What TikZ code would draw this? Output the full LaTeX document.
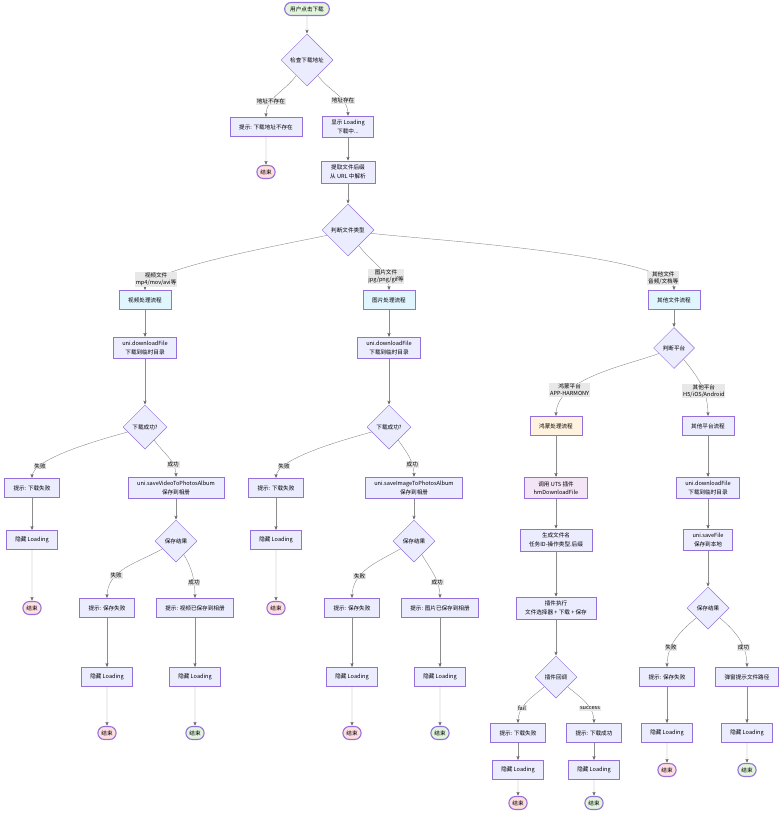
\documentclass[tikz,border=0pt]{standalone}
\usepackage{fontspec}
\newfontfamily\cjk{Noto Sans CJK SC}
\usetikzlibrary{arrows,positioning,shapes.geometric,shapes.misc}

\definecolor{nodefill}{HTML}{ECECFF}
\definecolor{nodeline}{HTML}{9370DB}
\definecolor{okfill}{HTML}{E2F5DC}
\definecolor{failfill}{HTML}{FFDEE0}
\definecolor{typefill}{HTML}{E1F5FE}
\definecolor{hmfill}{HTML}{FFF3E0}
\definecolor{utsfill}{HTML}{F3E5F5}
\definecolor{edgeline}{HTML}{8C8C8C}
\definecolor{lblfill}{HTML}{E8E8E8}

\begin{document}
\begin{tikzpicture}[->,>=stealth',shorten >=0.5pt,x=1pt,y=-1pt,
  line width=0.4pt,
  box/.style={rectangle,draw=nodeline,fill=nodefill,line width=0.5pt,
    font=\cjk\fontsize{5.6}{8.5}\selectfont,align=center,
    inner xsep=9pt,inner ysep=4pt,minimum height=19pt},
  choice/.style={diamond,aspect=1,draw=nodeline,fill=nodefill,line width=0.5pt,
    font=\cjk\fontsize{5.6}{8.5}\selectfont,inner sep=0pt},
  term/.style={rounded rectangle,draw=nodeline,line width=1.1pt,
    font=\cjk\fontsize{5.6}{8.5}\selectfont,inner xsep=3pt,minimum height=13pt},
  endok/.style={term,fill=okfill},
  endfail/.style={term,fill=failfill},
  lbl/.style={fill=lblfill,font=\cjk\fontsize{5.6}{7}\selectfont,
    align=center,inner sep=0.8pt}]

  \useasboundingbox (0,0) rectangle (784,814);

  % top part
  \node[endok,inner xsep=5pt] (start) at (307,9) {用户点击下载};
  \node[choice,minimum size=52pt] (chk) at (307,60) {检查下载地址};
  \node[box] (noaddr) at (266,127) {提示: 下载地址不存在};
  \node[endfail] (end1) [node distance=45pt, below of=noaddr] {结束};
  \node[box] (showld) at (348,127) {显示 Loading\\下载中...};
  \node[box] (ext) [node distance=45pt, below of=showld] {提取文件后缀\\从 URL 中解析};
  \node[choice,minimum size=52pt] (ftype) at (348,230) {判断文件类型};

  % three file types
  \node[box,fill=typefill] (vflow) at (145,300) {视频处理流程};
  \node[box,fill=typefill] (iflow) at (389,300) {图片处理流程};
  \node[box,fill=typefill] (oflow) at (674,300) {其他文件流程};

  % video
  \node[box] (vdl) [node distance=48pt, below of=vflow] {uni.downloadFile\\下载到临时目录};
  \node[choice,minimum size=44pt] (vok) [node distance=79pt, below of=vdl] {下载成功?};
  \node[box] (vdlfail) at (32,488) {提示: 下载失败};
  \node[box] (vhide1) [node distance=52pt, below of=vdlfail] {隐藏 Loading};
  \node[endfail] (vend1) [node distance=68pt, below of=vhide1] {结束};
  \node[box] (vsave) at (176,488) {uni.saveVideoToPhotosAlbum\\保存到相册};
  \node[choice,minimum size=42pt] (vres) [node distance=53pt, below of=vsave] {保存结果};
  \node[box] (vsfail) at (107,608) {提示: 保存失败};
  \node[box] (vhide2) [node distance=69pt, below of=vsfail] {隐藏 Loading};
  \node[endfail] (vend2) [node distance=56pt, below of=vhide2] {结束};
  \node[box] (vsok) at (195,608) {提示: 视频已保存到相册};
  \node[box] (vhide3) [node distance=69pt, below of=vsok] {隐藏 Loading};
  \node[endok] (vend3) [node distance=56pt, below of=vhide3] {结束};

  % image
  \node[box] (idl) [node distance=48pt, below of=iflow] {uni.downloadFile\\下载到临时目录};
  \node[choice,minimum size=44pt] (iok) [node distance=79pt, below of=idl] {下载成功?};
  \node[box] (idlfail) at (276,488) {提示: 下载失败};
  \node[box] (ihide1) [node distance=52pt, below of=idlfail] {隐藏 Loading};
  \node[endfail] (iend1) [node distance=68pt, below of=ihide1] {结束};
  \node[box] (isave) at (414,488) {uni.saveImageToPhotosAlbum\\保存到相册};
  \node[choice,minimum size=42pt] (ires) [node distance=53pt, below of=isave] {保存结果};
  \node[box] (isfail) at (352,608) {提示: 保存失败};
  \node[box] (ihide2) [node distance=69pt, below of=isfail] {隐藏 Loading};
  \node[endfail] (iend2) [node distance=56pt, below of=ihide2] {结束};
  \node[box] (isok) at (440,608) {提示: 图片已保存到相册};
  \node[box] (ihide3) [node distance=69pt, below of=isok] {隐藏 Loading};
  \node[endok] (iend3) [node distance=56pt, below of=ihide3] {结束};

  % other files
  \node[choice,minimum size=41pt] (plat) [node distance=48pt, below of=oflow] {判断平台};
  \node[box,fill=hmfill] (hflow) at (556,426) {鸿蒙处理流程};
  \node[box,fill=utsfill] (uts) [node distance=62pt, below of=hflow] {调用 UTS 插件\\hmDownloadFile};
  \node[box] (genname) [node distance=52pt, below of=uts] {生成文件名\\任务ID-操作类型.后缀};
  \node[box] (exec) [node distance=68pt, below of=genname] {插件执行\\文件选择器 + 下载 + 保存};
  \node[choice,minimum size=42pt] (cb) [node distance=69pt, below of=exec] {插件回调};
  \node[box] (hfail) at (518,733) {提示: 下载失败};
  \node[box] (hhide1) [node distance=37pt, below of=hfail] {隐藏 Loading};
  \node[endfail] (hend1) [node distance=33pt, below of=hhide1] {结束};
  \node[box] (hok) at (594,733) {提示: 下载成功};
  \node[box] (hhide2) [node distance=37pt, below of=hok] {隐藏 Loading};
  \node[endok] (hend2) [node distance=33pt, below of=hhide2] {结束};
  \node[box] (pflow) at (708,426) {其他平台流程};
  \node[box] (pdl) [node distance=62pt, below of=pflow] {uni.downloadFile\\下载到临时目录};
  \node[box] (psave) [node distance=52pt, below of=pdl] {uni.saveFile\\保存到本地};
  \node[choice,minimum size=42pt] (pres) [node distance=68pt, below of=psave] {保存结果};
  \node[box] (psfail) at (667,677) {提示: 保存失败};
  \node[box] (phide1) [node distance=56pt, below of=psfail] {隐藏 Loading};
  \node[endfail] (pend1) [node distance=37pt, below of=phide1] {结束};
  \node[box] (ppath) at (747,677) {弹窗提示文件路径};
  \node[box] (phide2) [node distance=56pt, below of=ppath] {隐藏 Loading};
  \node[endok] (pend2) [node distance=37pt, below of=phide2] {结束};

  \path[draw=edgeline]
    (start) edge (chk)
    (chk) edge[out=-125,in=90] node[lbl,pos=0.68] {地址不存在} (noaddr)
    (chk) edge[out=-55,in=90] node[lbl,pos=0.68] {地址存在} (showld)
    (noaddr) edge (end1)
    (showld) edge (ext)
    (ext) edge (ftype)
    (ftype) edge[out=194,in=90,looseness=0.3] node[lbl,pos=0.84] {视频文件\\mp4/mov/avi等} (vflow)
    (ftype) edge[out=-55,in=90] node[lbl,pos=0.75] {图片文件\\jpg/png/gif等} (iflow)
    (ftype) edge[out=-8,in=90,looseness=0.3] node[lbl,pos=0.88] {其他文件\\音频/文档等} (oflow)
    (vflow) edge (vdl)
    (vdl) edge (vok)
    (vok) edge[out=196,in=90,looseness=0.5] node[lbl,pos=0.8] {失败} (vdlfail)
    (vok) edge[out=-55,in=90] node[lbl,pos=0.7] {成功} (vsave)
    (vdlfail) edge (vhide1)
    (vhide1) edge (vend1)
    (vsave) edge (vres)
    (vres) edge[out=-150,in=90] node[lbl,pos=0.66] {失败} (vsfail)
    (vres) edge[out=-60,in=90] node[lbl,pos=0.66] {成功} (vsok)
    (vsfail) edge (vhide2)
    (vhide2) edge (vend2)
    (vsok) edge (vhide3)
    (vhide3) edge (vend3)
    (iflow) edge (idl)
    (idl) edge (iok)
    (iok) edge[out=196,in=90,looseness=0.5] node[lbl,pos=0.8] {失败} (idlfail)
    (iok) edge[out=-55,in=90] node[lbl,pos=0.7] {成功} (isave)
    (idlfail) edge (ihide1)
    (ihide1) edge (iend1)
    (isave) edge (ires)
    (ires) edge[out=-150,in=90] node[lbl,pos=0.66] {失败} (isfail)
    (ires) edge[out=-60,in=90] node[lbl,pos=0.66] {成功} (isok)
    (isfail) edge (ihide2)
    (ihide2) edge (iend2)
    (isok) edge (ihide3)
    (ihide3) edge (iend3)
    (oflow) edge (plat)
    (plat) edge[out=200,in=90,looseness=0.8] node[lbl,pos=0.72] {鸿蒙平台\\APP-HARMONY} (hflow)
    (plat) edge[out=-50,in=90] node[lbl,pos=0.6] {其他平台\\H5/iOS/Android} (pflow)
    (hflow) edge (uts)
    (uts) edge (genname)
    (genname) edge (exec)
    (exec) edge (cb)
    (cb) edge[out=-140,in=90] node[lbl,pos=0.66] {fail} (hfail)
    (cb) edge[out=-40,in=90] node[lbl,pos=0.66] {success} (hok)
    (hfail) edge (hhide1)
    (hhide1) edge (hend1)
    (hok) edge (hhide2)
    (hhide2) edge (hend2)
    (pflow) edge (pdl)
    (pdl) edge (psave)
    (psave) edge (pres)
    (pres) edge[out=-140,in=90] node[lbl,pos=0.66] {失败} (psfail)
    (pres) edge[out=-40,in=90] node[lbl,pos=0.66] {成功} (ppath)
    (psfail) edge (phide1)
    (phide1) edge (pend1)
    (ppath) edge (phide2)
    (phide2) edge (pend2)
    ;
\end{tikzpicture}
\end{document}
